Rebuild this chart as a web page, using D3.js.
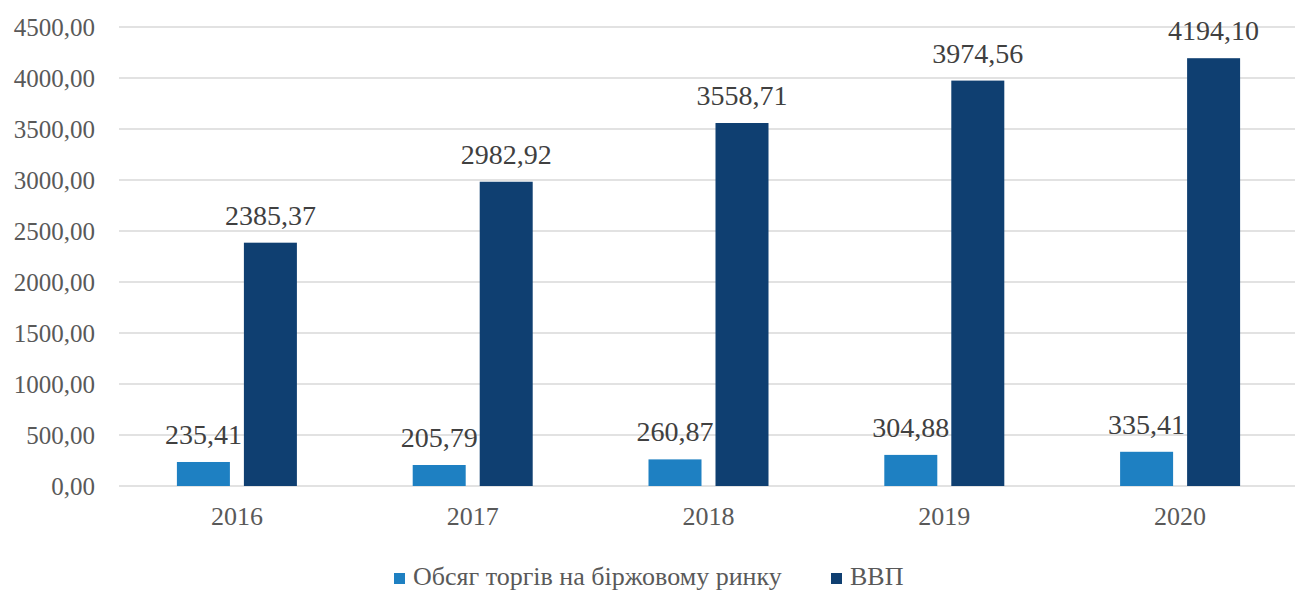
<!DOCTYPE html>
<html>
<head>
<meta charset="utf-8">
<script src="https://cdn.jsdelivr.net/npm/d3@7"></script>
<style>
  body { margin: 0; background: #fff; }
  svg text { font-family: "Liberation Serif", "Times New Roman", serif; }
</style>
</head>
<body>
<svg id="chart" width="1295" height="592"></svg>
<script>
// дані
const years = ["2016", "2017", "2018", "2019", "2020"];
const tradeVolume = [235.41, 205.79, 260.87, 304.88, 335.41];
const gdp = [2385.37, 2982.92, 3558.71, 3974.56, 4194.10];
const seriesNames = ["Обсяг торгів на біржовому ринку", "ВВП"];
const seriesColors = ["#1e80c2", "#0f3f71"];
const yTicks = [0, 500, 1000, 1500, 2000, 2500, 3000, 3500, 4000, 4500];

const FONT = "Liberation Serif";
const svg = d3.select("#chart");
const width = 1295;
const margin = { top: 27, left: 119 };
const plotRight = 1298;

const fmt = v => v.toFixed(2).replace(".", ",");

const x = d3.scaleBand().domain(years).range([margin.left, plotRight]);
const y = d3.scaleLinear().domain([0, 4500]).range([486, margin.top]);

const barW = 53, gap = 14;

// сітка
svg.append("g")
    .selectAll("line")
    .data(yTicks)
    .join("line")
    .attr("x1", margin.left)
    .attr("x2", width)
    .attr("y1", d => y(d))
    .attr("y2", d => y(d))
    .attr("stroke", "#d9d9d9")
    .attr("stroke-width", 1.5);

// підписи осі Y
const yAxis = d3.axisLeft(y).tickValues(yTicks).tickFormat(fmt).tickSize(0).tickPadding(0);
const yG = svg.append("g").attr("transform", "translate(95,0)").call(yAxis)
    .attr("font-family", FONT);
yG.select(".domain").remove();
yG.selectAll("text")
    .attr("font-family", FONT)
    .attr("font-size", 25)
    .attr("fill", "#595959")
    .each(function () {
        // довгі підписи трохи стиснуті, як в оригіналі
        if (this.getComputedTextLength() > 85) {
            d3.select(this).attr("textLength", 85).attr("lengthAdjust", "spacingAndGlyphs");
        }
    });

// підписи осі X
const xAxis = d3.axisBottom(x).tickSize(0).tickPadding(0);
const xG = svg.append("g").attr("transform", "translate(0,507)").call(xAxis)
    .attr("font-family", FONT);
xG.select(".domain").remove();
xG.selectAll("text")
    .attr("font-family", FONT)
    .attr("font-size", 26)
    .attr("fill", "#595959");

const series = [tradeVolume, gdp];
series.forEach((vals, s) => {
    const off = s === 0 ? -(gap / 2 + barW) : gap / 2;
    const g = svg.append("g");
    g.selectAll("rect")
        .data(years)
        .join("rect")
        .attr("x", d => x(d) + x.bandwidth() / 2 + off)
        .attr("y", (d, i) => y(vals[i]))
        .attr("width", barW)
        .attr("height", (d, i) => y(0) - y(vals[i]))
        .attr("fill", seriesColors[s]);
    g.selectAll("text")
        .data(years)
        .join("text")
        .attr("x", d => x(d) + x.bandwidth() / 2 + off + barW / 2)
        .attr("y", (d, i) => y(vals[i]) - 18)
        .attr("text-anchor", "middle")
        .attr("font-family", FONT)
        .attr("font-size", 28)
        .attr("fill", "#404040")
        .text((d, i) => fmt(vals[i]));
});

// легенда
const legendX = [394, 831];
const legend = svg.append("g");
seriesNames.forEach((name, i) => {
    legend.append("rect")
        .attr("x", legendX[i])
        .attr("y", 573)
        .attr("width", 11)
        .attr("height", 11)
        .attr("fill", seriesColors[i]);
    legend.append("text")
        .attr("x", legendX[i] + 19)
        .attr("y", 585)
        .attr("font-family", FONT)
        .attr("font-size", 26)
        .attr("fill", "#595959")
        .text(name);
});
</script>
</body>
</html>
